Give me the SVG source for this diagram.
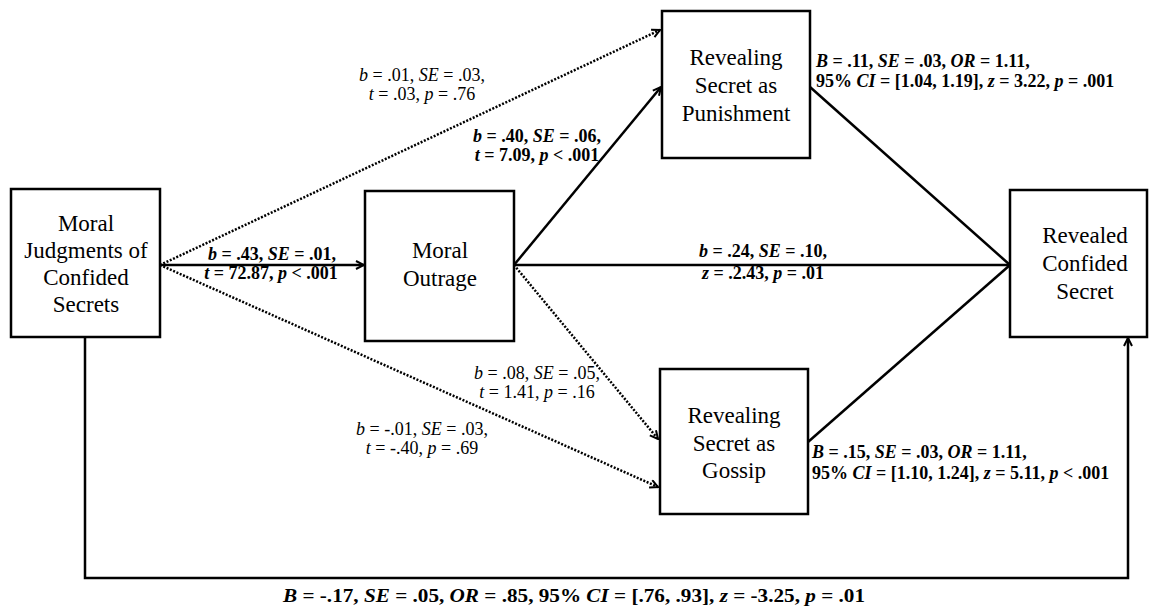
<svg xmlns="http://www.w3.org/2000/svg" width="1149" height="608" viewBox="0 0 1149 608">
<style>
.box{fill:#fff;stroke:#000;stroke-width:2.5}
.nt{font-family:"Liberation Serif","Times New Roman",serif;font-size:23px;text-anchor:middle;fill:#000}
.lb{font-family:"Liberation Serif","Times New Roman",serif;font-size:18px;fill:#000}
.b{font-weight:bold}
.i{font-style:italic}
.c{text-anchor:middle}
.solid{fill:none;stroke:#000;stroke-width:2.5}
.dot{fill:none;stroke:#000;stroke-width:2.5;stroke-dasharray:2 1.6}
</style>
<defs>
<marker id="ah" viewBox="0 0 10 10" refX="9" refY="5" markerWidth="10" markerHeight="10" markerUnits="userSpaceOnUse" orient="auto">
<path d="M1,1 L9,5 L1,9" fill="none" stroke="#000" stroke-width="2"/>
</marker>
</defs>
<g id="connectors">
<line class="solid" x1="160" y1="265" x2="364" y2="265" marker-end="url(#ah)"/>
<line class="dot" x1="160" y1="265" x2="660" y2="30" marker-end="url(#ah)"/>
<line class="dot" x1="160" y1="265" x2="658" y2="487" marker-end="url(#ah)"/>
<line class="solid" x1="514" y1="265" x2="661" y2="87" marker-end="url(#ah)"/>
<line class="solid" x1="514" y1="265" x2="1010" y2="265"/>
<line class="dot" x1="514" y1="265" x2="658" y2="439" marker-end="url(#ah)"/>
<line class="solid" x1="810" y1="87" x2="1010" y2="265"/>
<line class="solid" x1="808" y1="442" x2="1010" y2="265"/>
<polyline class="solid" points="85,337 85,578 1128,578 1128,338" marker-end="url(#ah)"/>
</g>
<g id="n1"><rect class="box" x="11" y="189" width="149" height="148"/>
<text class="nt" x="86" y="231">Moral</text><text class="nt" x="86" y="258">Judgments of</text><text class="nt" x="86" y="285">Confided</text><text class="nt" x="86" y="312">Secrets</text></g>
<g id="n2"><rect class="box" x="365" y="191" width="149" height="150"/>
<text class="nt" x="440" y="258">Moral</text><text class="nt" x="440" y="286">Outrage</text></g>
<g id="n3"><rect class="box" x="662" y="11" width="148" height="147"/>
<text class="nt" x="736" y="65">Revealing</text><text class="nt" x="736" y="93">Secret as</text><text class="nt" x="736" y="121">Punishment</text></g>
<g id="n4"><rect class="box" x="660" y="369" width="148" height="145"/>
<text class="nt" x="734" y="423">Revealing</text><text class="nt" x="734" y="451">Secret as</text><text class="nt" x="734" y="478">Gossip</text></g>
<g id="n5"><rect class="box" x="1010" y="190" width="137" height="147"/>
<text class="nt" x="1085" y="243">Revealed</text><text class="nt" x="1085" y="271">Confided</text><text class="nt" x="1085" y="299">Secret</text></g>
<g id="labels">
<text class="lb b c" x="272" y="260"><tspan class="i">b</tspan> = .43, <tspan class="i">SE</tspan> = .01,</text>
<text class="lb b c" x="271" y="279"><tspan class="i">t</tspan> = 72.87, <tspan class="i">p</tspan> &lt; .001</text>
<text class="lb c" x="422" y="81"><tspan class="i">b</tspan> = .01, <tspan class="i">SE</tspan> = .03,</text>
<text class="lb c" x="422" y="100"><tspan class="i">t</tspan> = .03, <tspan class="i">p</tspan> = .76</text>
<text class="lb b c" x="537" y="142"><tspan class="i">b</tspan> = .40, <tspan class="i">SE</tspan> = .06,</text>
<text class="lb b c" x="537" y="161"><tspan class="i">t</tspan> = 7.09, <tspan class="i">p</tspan> &lt; .001</text>
<text class="lb b" x="816" y="67"><tspan class="i">B</tspan> = .11, <tspan class="i">SE</tspan> = .03, <tspan class="i">OR</tspan> = 1.11,</text>
<text class="lb b" x="816" y="87">95% <tspan class="i">CI</tspan> = [1.04, 1.19], <tspan class="i">z</tspan> = 3.22, <tspan class="i">p</tspan> = .001</text>
<text class="lb b c" x="763" y="257"><tspan class="i">b</tspan> = .24, <tspan class="i">SE</tspan> = .10,</text>
<text class="lb b c" x="763" y="279"><tspan class="i">z</tspan> = .2.43, <tspan class="i">p</tspan> = .01</text>
<text class="lb c" x="537" y="379"><tspan class="i">b</tspan> = .08, <tspan class="i">SE</tspan> = .05,</text>
<text class="lb c" x="537" y="398"><tspan class="i">t</tspan> = 1.41, <tspan class="i">p</tspan> = .16</text>
<text class="lb c" x="422" y="435"><tspan class="i">b</tspan> = -.01, <tspan class="i">SE</tspan> = .03,</text>
<text class="lb c" x="422" y="454"><tspan class="i">t</tspan> = -.40, <tspan class="i">p</tspan> = .69</text>
<text class="lb b" x="812" y="458"><tspan class="i">B</tspan> = .15, <tspan class="i">SE</tspan> = .03, <tspan class="i">OR</tspan> = 1.11,</text>
<text class="lb b" x="812" y="479">95% <tspan class="i">CI</tspan> = [1.10, 1.24], <tspan class="i">z</tspan> = 5.11, <tspan class="i">p</tspan> &lt; .001</text>
<text class="lb b" x="283" y="602" textLength="582" lengthAdjust="spacingAndGlyphs"><tspan class="i">B</tspan> = -.17, <tspan class="i">SE</tspan> = .05, <tspan class="i">OR</tspan> = .85, 95% <tspan class="i">CI</tspan> = [.76, .93], <tspan class="i">z</tspan> = -3.25, <tspan class="i">p</tspan> = .01</text>
</g>
</svg>
